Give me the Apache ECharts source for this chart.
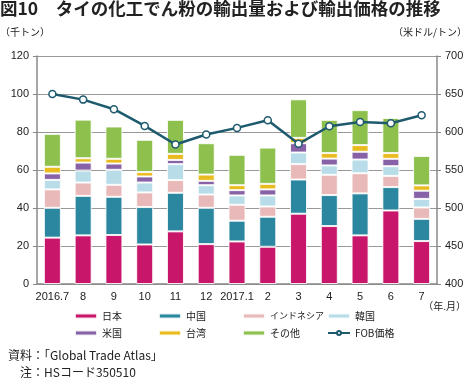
<!DOCTYPE html>
<html><head><meta charset="utf-8">
<script src="https://cdn.jsdelivr.net/npm/echarts@6/dist/echarts.min.js"></script>
<style>html,body{margin:0;padding:0;background:#fff}#c{width:469px;height:379px}</style>
</head><body><div id="c"></div>
<script>
const categories = ['2016.7','8','9','10','11','12','2017.1','2','3','4','5','6','7'];
const japan     = [24.4, 25.6, 25.8, 20.8, 27.7, 21.0, 22.4, 19.6, 37.0, 30.5, 25.6, 38.7, 22.6];
const china     = [15.7, 20.8, 20.1, 19.7, 20.3, 19.1, 10.9, 15.8, 18.0, 16.3, 22.1, 12.3, 11.7];
const indonesia = [ 9.7,  7.0,  6.3,  7.7,  6.7,  7.0,  8.4,  5.4,  8.1, 10.7, 10.6,  5.9,  6.0];
const korea     = [ 5.0,  6.3,  7.9,  5.2,  8.4,  4.9,  4.9,  5.8,  6.1,  4.9,  7.2,  5.1,  4.5];
const usa       = [ 3.4,  4.2,  3.3,  3.2,  2.2,  2.3,  2.8,  3.2,  4.9,  3.6,  4.1,  3.9,  4.3];
const taiwan    = [ 3.5,  2.3,  2.5,  2.3,  3.2,  3.3,  2.6,  2.9,  2.8,  2.9,  3.5,  3.0,  2.8];
const others    = [17.3, 20.3, 17.0, 17.0, 17.9, 16.5, 16.0, 19.1, 20.3, 17.5, 18.4, 18.5, 15.5];
const fobPrice  = [650, 642.6, 630, 608, 583.5, 596.7, 605.4, 615.5, 584.4, 607.6, 613.3, 611.6, 622];
const leftTicks = [0, 20, 40, 60, 80, 100, 120];
const rightTicks = [400, 450, 500, 550, 600, 650, 700];

const FONT = '"Liberation Sans","Noto Sans CJK JP",sans-serif';
const JFONT = '"Noto Sans CJK JP",sans-serif';
const barDefs = [
  ['日本', japan, '#c8176b'],
  ['中国', china, '#2b869f'],
  ['インドネシア', indonesia, '#e9b9b9'],
  ['韓国', korea, '#b9dce9'],
  ['米国', usa, '#8762a6'],
  ['台湾', taiwan, '#e9bb1f'],
  ['その他', others, '#8dc04d']
];
const series = barDefs.map(([n, d, c]) => ({
  name: n, type: 'bar', stack: 'a', data: d, barWidth: 17,
  itemStyle: {color: c, borderColor: 'rgba(255,255,255,0.85)', borderWidth: 1},
  emphasis: {disabled: true}
}));
series.push({
  name: 'FOB価格', type: 'line', yAxisIndex: 1, data: fobPrice,
  symbol: 'circle', symbolSize: 7, z: 5,
  lineStyle: {color: '#1e5a6e', width: 2.5},
  itemStyle: {color: '#fff', borderColor: '#1e5a6e', borderWidth: 1.5}
});
const chart = echarts.init(document.getElementById('c'));
const legCommon = {orient: 'vertical', top: 310, padding: 0, itemWidth: 22, itemHeight: 5, itemGap: 5,
  textStyle: {fontFamily: JFONT, fontSize: 10, color: '#222', lineHeight: 12}, selectedMode: false};
chart.setOption({
  animation: false,
  title: {text: '図10　タイの化工でん粉の輸出量および輸出価格の推移', left: 0, top: 0, padding: 0,
    textStyle: {fontFamily: JFONT, fontSize: 17.5, fontWeight: 'bold', color: '#222'}},
  grid: {left: 37, right: 32, top: 56, bottom: 95},
  legend: [
    Object.assign({left: 74, data: ['日本', '米国']}, legCommon),
    Object.assign({left: 158, data: ['中国', '台湾']}, legCommon),
    Object.assign({left: 242, data: [{name: 'インドネシア', textStyle: {fontSize: 9}}, 'その他']}, legCommon),
    Object.assign({left: 327, data: ['韓国', 'FOB価格']}, legCommon)
  ],
  xAxis: {type: 'category', data: categories,
    axisLine: {lineStyle: {color: '#888', width: 1.5}},
    axisTick: {length: 4, lineStyle: {color: '#888'}},
    axisLabel: {fontFamily: FONT, fontSize: 11, color: '#222', margin: 7, interval: 0}},
  yAxis: [
    {type: 'value', min: leftTicks[0], max: leftTicks[leftTicks.length - 1], interval: 20,
      axisLine: {show: true, lineStyle: {color: '#888', width: 1.5}},
      axisTick: {show: true, length: 4, lineStyle: {color: '#888'}},
      splitLine: {lineStyle: {color: '#999', width: 1.2}},
      axisLabel: {fontFamily: FONT, fontSize: 11, color: '#222', margin: 8}},
    {type: 'value', min: rightTicks[0], max: rightTicks[rightTicks.length - 1], interval: 50,
      axisLine: {show: true, lineStyle: {color: '#888', width: 1.5}},
      axisTick: {show: true, length: 4, lineStyle: {color: '#888'}},
      splitLine: {show: false},
      axisLabel: {fontFamily: FONT, fontSize: 11, color: '#222', margin: 8}}
  ],
  graphic: [
    {type: 'text', left: 0, top: 27, style: {text: '（千トン）', fontFamily: JFONT, fontSize: 10, fill: '#222'}},
    {type: 'text', right: 2, top: 27, style: {text: '（米ドル/トン）', fontFamily: JFONT, fontSize: 10, fill: '#222'}},
    {type: 'text', right: 3, top: 301, style: {text: '（年.月）', fontFamily: JFONT, fontSize: 10, fill: '#222'}},
    {type: 'text', left: 8, top: 349, style: {text: '資料：「Global Trade Atlas」', fontFamily: JFONT, fontSize: 12, fill: '#222'}},
    {type: 'text', left: 20, top: 366, style: {text: '注：HSコード350510', fontFamily: JFONT, fontSize: 12, fill: '#222'}}
  ],
  series: series
});
</script></body></html>
